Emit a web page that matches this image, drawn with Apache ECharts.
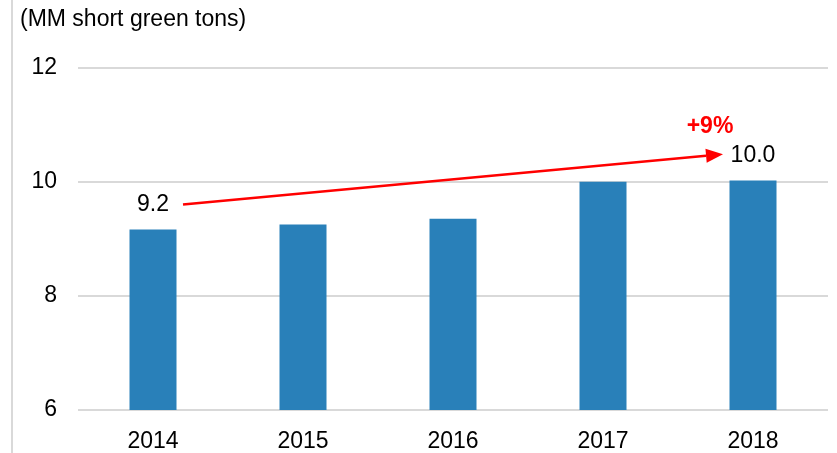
<!DOCTYPE html>
<html><head><meta charset="utf-8">
<script src="https://cdn.jsdelivr.net/npm/echarts@6/dist/echarts.min.js"></script>
<style>html,body{margin:0;padding:0;background:#fff}#c{width:837px;height:453px}</style>
</head><body><div id="c"></div>
<script>
var categories = ['2014', '2015', '2016', '2017', '2018'];
var values = [9.16, 9.25, 9.35, 10.0, 10.02];
var yTicks = [6, 8, 10, 12];
var unitLabel = '(MM short green tons)';
var growthLabel = '+9%';
var arrowFrom = ['2014', 9.6];
var arrowTo = ['2018', 10.48];

var FONT = 'Liberation Sans, Arial, sans-serif';
var FS = 23;
var chart = echarts.init(document.getElementById('c'));
var last = values.length - 1;
chart.setOption({
  animation: false,
  grid: { left: 78, right: 9, top: 67.5, bottom: 41.5, containLabel: false },
  xAxis: {
    type: 'category', data: categories,
    axisLine: { show: false }, axisTick: { show: false },
    axisLabel: { color: '#000', fontSize: FS, fontFamily: FONT, margin: 20 }
  },
  yAxis: {
    type: 'value', min: yTicks[0], max: yTicks[yTicks.length - 1], interval: 2,
    axisLine: { show: false }, axisTick: { show: false },
    axisLabel: { color: '#000', fontSize: FS, fontFamily: FONT, margin: 21 },
    splitLine: { lineStyle: { color: '#d9d9d9', width: 2 } }
  },
  series: [{
    type: 'bar', data: values.map(function (v, i) {
      return { value: v, label: { show: i === 0 || i === last } };
    }),
    barWidth: 47,
    itemStyle: { color: '#2980B9' },
    label: {
      position: 'top', distance: 13, color: '#000', fontSize: FS, fontFamily: FONT,
      formatter: function (p) { return p.value.toFixed(1); }
    }
  }]
});

var p0 = chart.convertToPixel({ gridIndex: 0 }, arrowFrom);
var p1 = chart.convertToPixel({ gridIndex: 0 }, arrowTo);
p0[0] += 30; p1[0] -= 30;
var dx = p1[0] - p0[0], dy = p1[1] - p0[1];
var len = Math.sqrt(dx * dx + dy * dy);
var ux = dx / len, uy = dy / len;
var headL = 17, headW = 7;
var bx = p1[0] - ux * headL, by = p1[1] - uy * headL;
chart.setOption({
  graphic: [
    { type: 'line', shape: { x1: 12, y1: 0, x2: 12, y2: 453 }, style: { stroke: '#d9d9d9', lineWidth: 2 } },
    { type: 'text', left: 20, top: 8, style: { text: unitLabel, fill: '#000', font: FS + 'px ' + FONT } },
    { type: 'line', shape: { x1: p0[0], y1: p0[1], x2: bx, y2: by }, style: { stroke: '#ff0000', lineWidth: 2.5 } },
    { type: 'polygon', shape: { points: [[p1[0], p1[1]], [bx - uy * headW, by + ux * headW], [bx + uy * headW, by - ux * headW]] }, style: { fill: '#ff0000' } },
    { type: 'text', x: p1[0] - 13, y: p1[1] - 28, style: { text: growthLabel, fill: '#ff0000', font: 'bold ' + FS + 'px ' + FONT, textAlign: 'center', textVerticalAlign: 'middle' } }
  ]
});
</script></body></html>
